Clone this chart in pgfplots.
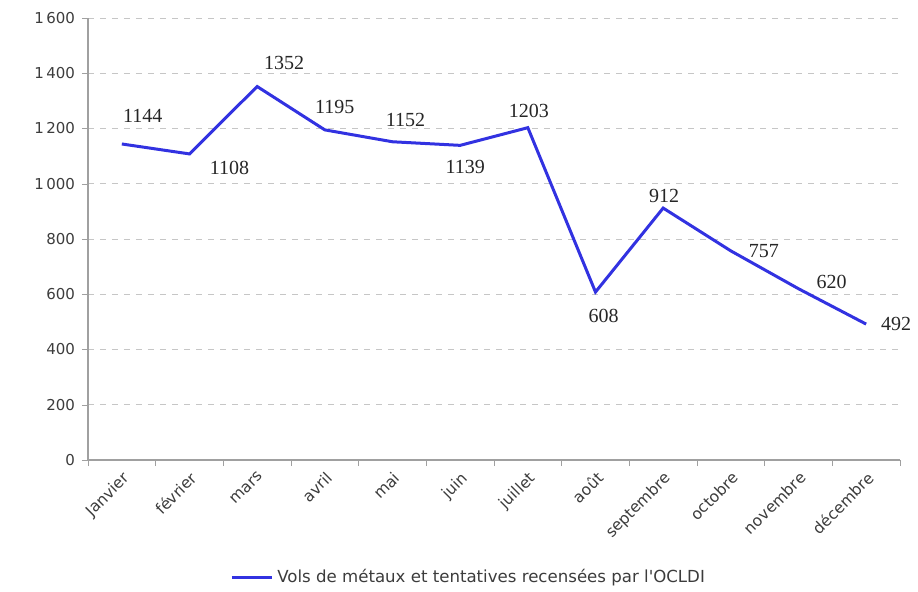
\documentclass[border=0pt]{standalone}
\usepackage{fontspec}
\setmainfont{Liberation Serif}
\newfontfamily\tickfont{DejaVu Sans}
\usepackage{pgfplots}
\usepackage{pgfplotstable}
\pgfplotsset{compat=1.18}

\definecolor{lineblue}{RGB}{50,50,225}
\definecolor{axisgray}{RGB}{160,160,160}
\definecolor{textgray}{RGB}{60,60,60}

% month index, value, label offset (pt)
\pgfplotstableread{
x  y    dx   dy
0  1144 10.5 14
1  1108 20   -7
2  1352 13.5 12
3  1195 5    11.5
4  1152 6.5  11
5  1139 2.5  -11
6  1203 0.5  8.5
7  608  4    -12
8  912  0.5  6
9  757  16.5 0
10 620  16.5 3.5
11 492  15   0
}\vols

\begin{document}
\begin{tikzpicture}
\begin{axis}[
    scale only axis,
    width=406pt, height=221pt,
    xmin=-0.5, xmax=11.5,
    ymin=0, ymax=1600,
    xtick={0,...,11},
    xticklabels={Janvier,février,mars,avril,mai,juin,juillet,août,septembre,octobre,novembre,décembre},
    minor xtick={-0.5,0.5,...,11.5},
    ytick={0,200,...,1600},
    axis lines*=left,
    axis line style={axisgray, line width=0.8pt},
    tick align=outside,
    major tick length=3pt,
    minor tick length=3pt,
    major x tick style={draw=none},
    minor x tick style={axisgray},
    major y tick style={axisgray},
    ymajorgrids,
    major y grid style={dashed, gray!45},
    /pgf/number format/.cd, 1000 sep={\,}, assume math mode=true,
    /pgfplots/.cd,
    yticklabel style={font=\tickfont\fontsize{7.5}{9}\selectfont, text=textgray},
    xticklabel style={font=\tickfont\fontsize{7.8}{9}\selectfont, text=textgray,
        rotate=45, anchor=north east, inner sep=1.5pt},
    legend style={at={(0.47,0)}, anchor=center, yshift=-58.5pt, draw=none,
        font=\tickfont\fontsize{8.3}{10}\selectfont, text=textgray},
    legend image code/.code={\draw[#1] (0pt,0pt) -- (20pt,0pt);},
    clip=false,
]
\addplot[lineblue, line width=1.5pt, mark=none] table[x=x, y=y] {\vols};
\addlegendentry{Vols de métaux et tentatives recensées par l'OCLDI}

\addplot[draw=none, mark=none, forget plot,
    nodes near coords,
    point meta=explicit,
    visualization depends on={\thisrow{dx} \as \dx},
    visualization depends on={\thisrow{dy} \as \dy},
    nodes near coords={\pgfmathprintnumber[1000 sep={}]{\pgfplotspointmeta}},
    every node near coord/.style={anchor=center, xshift=\dx pt, yshift=\dy pt,
        font=\fontsize{10}{12}\selectfont, text=black!85}]
    table[x=x, y=y, meta=y] {\vols};
\end{axis}
\pgfresetboundingbox
\path (current axis.south west) ++(-44pt,-65.5pt) rectangle ++(459pt,295.5pt);
\end{tikzpicture}
\end{document}
